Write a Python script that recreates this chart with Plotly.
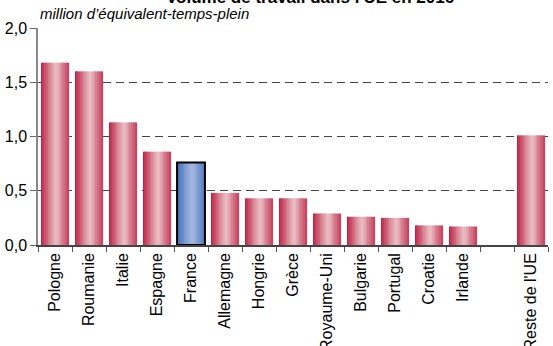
import plotly.graph_objects as go

# Volume de travail (millions d'équivalent-temps-plein), 2016
pays = ["Pologne", "Roumanie", "Italie", "Espagne", "France", "Allemagne",
        "Hongrie", "Grèce", "Royaume-Uni", "Bulgarie", "Portugal", "Croatie",
        "Irlande", " ", "Reste de l'UE"]
volume = [1.68, 1.60, 1.13, 0.86, 0.76, 0.48, 0.43, 0.43, 0.29, 0.26,
          0.25, 0.18, 0.17, None, 1.01]
pays_mis_en_avant = "France"

ROUGE_BORD = (184, 22, 58)
ROUGE_CENTRE = (236, 196, 200)
BLEU_BORD = (58, 106, 182)
BLEU_CENTRE = (168, 186, 226)


def melange(a, b, t):
    return "rgb({},{},{})".format(*[round(a[k] + (b[k] - a[k]) * t) for k in range(3)])


fig = go.Figure()

# Shaded bars: each bar is built from thin vertical strips
largeur = 0.82
n = 16
pas = largeur / n
for i in range(n):
    pos = (i + 0.5) / n
    t = 1 - abs(2 * pos - 1.1) / 1.1
    t = max(0.0, min(1.0, t)) ** 0.9
    couleurs = [melange(BLEU_BORD, BLEU_CENTRE, t) if p == pays_mis_en_avant
                else melange(ROUGE_BORD, ROUGE_CENTRE, t) for p in pays]
    fig.add_trace(go.Bar(
        x=pays, y=volume,
        width=pas + 0.006, offset=-largeur / 2 + i * pas,
        marker=dict(color=couleurs, line=dict(width=0)),
        hoverinfo="skip", showlegend=False,
    ))

# Outline of the highlighted bar
k = pays.index(pays_mis_en_avant)
fig.add_trace(go.Bar(
    x=[pays[k]], y=[volume[k]], width=largeur, offset=-largeur / 2,
    marker=dict(color="rgba(0,0,0,0)", line=dict(color="black", width=2)),
    hoverinfo="skip", showlegend=False,
))

police = "Liberation Sans, Arial, sans-serif"

fig.update_layout(
    width=553, height=346,
    margin=dict(l=38, r=5, t=28, b=101),
    paper_bgcolor="white", plot_bgcolor="white",
    barmode="overlay",
    separators=", ",
    font=dict(family=police, size=16, color="black"),
    xaxis=dict(
        type="category", range=[-0.5, 14.5], automargin=False,
        tickangle=-90, tickson="boundaries", ticks="outside", ticklen=5,
        tickcolor="#555", tickwidth=1,
        showline=True, linecolor="#444", linewidth=1.5,
        showgrid=False, tickfont=dict(size=16),
    ),
    yaxis=dict(
        range=[0, 2], dtick=0.5, tickformat=".1f", automargin=False,
        ticks="outside", ticklen=6, tickcolor="#666",
        showline=True, linecolor="#888", linewidth=1.5,
        showgrid=True, gridcolor="#444", gridwidth=1, griddash="8px,5px",
        zeroline=False, tickfont=dict(size=16),
    ),
    annotations=[
        dict(text="<b>Volume de travail dans l'UE en 2016</b>",
             xref="paper", yref="paper", x=(310 - 38) / 510, y=(245 - 9) / 217,
             xanchor="center", yanchor="bottom", showarrow=False,
             font=dict(size=17, family=police)),
        dict(text="<i>million d’équivalent-temps-plein</i>",
             xref="paper", yref="paper", x=0, y=(245 - 24) / 217,
             xanchor="left", yanchor="bottom", showarrow=False,
             font=dict(size=15, family=police)),
    ],
)

fig.write_html("out.html")
